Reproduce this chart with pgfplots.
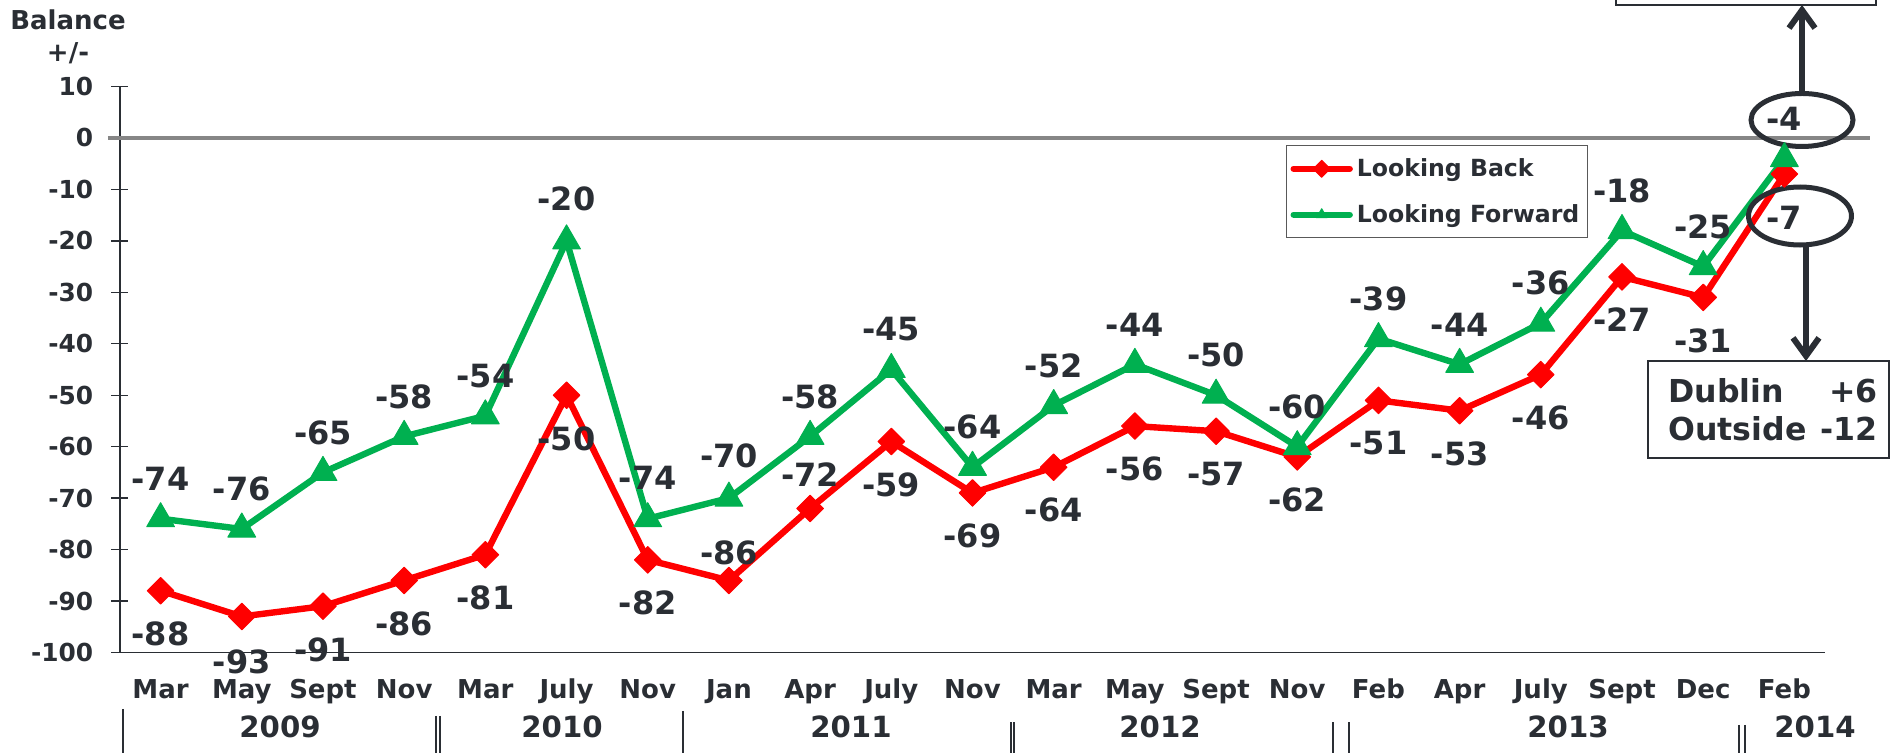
\documentclass[border=0pt]{standalone}
\usepackage{fontspec}
\setmainfont{DejaVu Sans}
\usepackage{pgfplots}
\pgfplotsset{compat=1.18}
\usepackage{pgfplotstable}
\usetikzlibrary{arrows.meta}
\definecolor{rojo}{RGB}{255,0,0}
\definecolor{verde}{RGB}{0,176,80}
\definecolor{tinta}{RGB}{42,46,52}
\definecolor{cero}{RGB}{134,134,134}

% x = survey index, y = balance, dy = label shift (pt)
\pgfplotstableread{
x y dy
0 -88 -21.5
1 -93 -22.5
2 -91 -22
3 -86 -21.5
4 -81 -21.5
5 -50 -22
6 -82 -21.5
7 -86 13.75
8 -72 16.7
9 -59 -21.5
10 -69 -21.5
11 -64 -21.5
12 -56 -21.5
13 -57 -21.5
14 -62 -21.5
15 -51 -21.5
16 -53 -21.5
17 -46 -21.5
18 -27 -21.5
19 -31 -21.5
20 -7 -22
}\back
\pgfplotstableread{
x y dy
0 -74 20
1 -76 20
2 -65 20
3 -58 20
4 -54 20
5 -20 21
6 -74 20.5
7 -70 21
8 -58 20
9 -45 20
10 -64 20
11 -52 20
12 -44 20
13 -50 20
14 -60 20
15 -39 20
16 -44 20
17 -36 20
18 -18 20
19 -25 20
20 -4 20
}\fwd

\newcommand\labf{\fontsize{16}{18}\selectfont\bfseries}
\tikzset{
  yr/.style={anchor=base, font=\fontsize{14.6}{16}\selectfont\bfseries},
  sep/.style={tinta, line width=1.2pt},
}

\begin{document}
\begin{tikzpicture}[font=\bfseries, text=tinta]
\begin{axis}[
  at={(0pt,0pt)}, anchor=south west,
  scale only axis, width=852.5pt, height=283pt,
  xmin=-0.5, xmax=20.5, ymin=-100, ymax=10,
  axis x line=bottom, axis y line=left,
  axis line style={-, draw=tinta, line width=0.7pt},
  ytick={-100,-90,...,10}, ytick align=center, major tick length=8.5pt,
  ytick style={draw=tinta, line width=0.7pt},
  xtick={0,...,20}, xtick style={draw=none},
  xticklabels={Mar,May,Sept,Nov,Mar,July,Nov,Jan,Apr,July,Nov,Mar,May,Sept,Nov,Feb,Apr,July,Sept,Dec,Feb},
  yticklabel style={font=\fontsize{12.4}{14}\selectfont\bfseries, text=tinta, anchor=east, inner sep=0pt, xshift=-9pt},
  xticklabel style={font=\fontsize{13}{15}\selectfont\bfseries, text=tinta, anchor=base, yshift=-18.75pt},
  /pgf/number format/assume math mode=true,
  clip=false,
  point meta=y,
  nodes near coords,
  visualization depends on={\thisrow{dy} \as \dy},
  every node near coord/.append style={font=\labf, text=tinta, anchor=center, yshift=\dy pt},
  legend style={at={(axis cs:13.86,-1.4)}, anchor=north west,
    draw=black!65, line width=0.6pt, fill=white,
    font=\fontsize{11.8}{13}\selectfont\bfseries, text=tinta,
    inner xsep=2pt, inner ysep=4.3pt, row sep=8.5pt},
  legend cell align=left,
  legend image code/.code={
    \draw[#1, mark=none, line cap=round] (0pt,0pt) -- (28pt,0pt);
    \draw[#1, mark size=3pt] plot coordinates {(14pt,0pt)};
  },
]
\draw[cero, line width=2pt] (axis cs:-0.648,0) -- (axis cs:21.05,0);

\addplot[rojo, line width=3.2pt, line join=round, mark=square*, mark size=4.7pt,
  mark options={rotate=45, line width=0.5pt, fill=rojo}] table[x=x, y=y] {\back};
\addlegendentry{Looking Back}
\addplot[verde, line width=3.2pt, line join=round, mark=triangle*, mark size=8pt,
  mark options={line width=0.5pt, fill=verde}] table[x=x, y=y] {\fwd};
\addlegendentry{Looking Forward}

% y title
\node[anchor=base, font=\fontsize{13}{15}\selectfont\bfseries] at (axis cs:-1.14,21.0) {Balance};
\node[anchor=base, font=\fontsize{13}{15}\selectfont\bfseries] at (axis cs:-1.14,14.8) {+/-};

% year row
\node[yr] at (axis cs:1.471,-116.6) {2009};
\node[yr] at (axis cs:4.944,-116.6) {2010};
\node[yr] at (axis cs:8.503,-116.6) {2011};
\node[yr] at (axis cs:12.31,-116.6) {2012};
\node[yr] at (axis cs:17.335,-116.6) {2013};
\node[yr] at (axis cs:20.377,-116.6) {2014};
\draw[sep] (axis cs:-0.463,-110.98) -- (axis cs:-0.463,-121);
\draw[sep] (axis cs:3.392,-112.34) -- (axis cs:3.392,-121);
\draw[sep] (axis cs:3.441,-112.34) -- (axis cs:3.441,-121);
\draw[sep] (axis cs:6.434,-111.37) -- (axis cs:6.434,-121);
\draw[sep] (axis cs:10.474,-113.51) -- (axis cs:10.474,-121);
\draw[sep] (axis cs:10.511,-113.51) -- (axis cs:10.511,-121);
\draw[sep] (axis cs:14.44,-113.51) -- (axis cs:14.44,-121);
\draw[sep] (axis cs:14.637,-113.51) -- (axis cs:14.637,-121);
\draw[sep] (axis cs:19.441,-114.09) -- (axis cs:19.441,-121);
\draw[sep] (axis cs:19.515,-114.09) -- (axis cs:19.515,-121);

% Feb 2014 call-outs
\draw[tinta, line width=2.5pt] (axis cs:20.217,3.49) ellipse [x radius=25.5pt, y radius=13.25pt];
\draw[tinta, line width=2.5pt] (axis cs:20.192,-15.17) ellipse [x radius=25.75pt, y radius=14.5pt];
\draw[tinta, line width=3pt, -{Straight Barb[length=9pt,width=13pt]}] (axis cs:20.217,8.74) -- (axis cs:20.217,25.84);
\draw[tinta, line width=1pt] (axis cs:17.926,25.84) rectangle (axis cs:21.128,35);
\draw[tinta, line width=3pt, -{Straight Barb[length=9pt,width=13pt]}] (axis cs:20.266,-20.8) -- (axis cs:20.266,-43.35);
\draw[tinta, line width=1pt] (axis cs:18.32,-43.35) rectangle (axis cs:21.29,-62.19);
\node[anchor=west, inner sep=0pt, font=\fontsize{15.8}{19}\selectfont\bfseries] at (axis cs:18.567,-53.7)
  {\begin{tabular}{@{}l@{\hspace{7pt}}r@{}}Dublin & +6\\ Outside & -12\end{tabular}};
\end{axis}
\pgfresetboundingbox
\path[use as bounding box] (-60pt,-50.25pt) rectangle (885.5pt,326.25pt);
\end{tikzpicture}
\end{document}
